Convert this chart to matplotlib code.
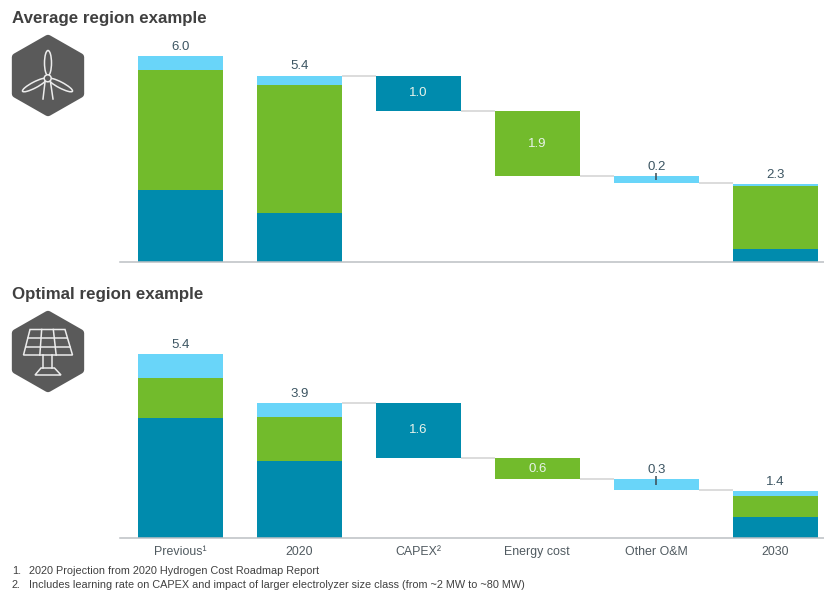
import matplotlib
matplotlib.use("Agg")
from matplotlib import pyplot as plt
from matplotlib.patches import Ellipse, Polygon, Circle
import numpy as np

plt.rcParams["font.family"] = ["Liberation Sans", "DejaVu Sans"]

categories = ["Previous¹", "2020", "CAPEX²", "Energy cost", "Other O&M", "2030"]

# stacked bars: Previous, 2020, 2030
avg_capex = [2.09, 1.42, 0.37]
avg_energy = [3.51, 3.74, 1.83]
avg_other = [0.40, 0.27, 0.07]
avg_steps = [1.03, 1.91, 0.20]
avg_totals = ["6.0", "5.4", "2.3"]
avg_step_labels = ["1.0", "1.9", "0.2"]

opt_capex = [3.52, 2.24, 0.60]
opt_energy = [1.18, 1.30, 0.62]
opt_other = [0.70, 0.42, 0.14]
opt_steps = [1.62, 0.63, 0.32]
opt_totals = ["5.4", "3.9", "1.4"]
opt_step_labels = ["1.6", "0.6", "0.3"]

TEAL = "#008bad"
GREEN = "#72bb2c"
LIGHT = "#69d5f9"
GREY = "#dcdcdc"
TXT = "#3c5562"
W, H = 824, 595


def panel(rect, ymax, capex, energy, other, steps, totals, step_labels):
    ax = fig.add_axes(rect)
    ax.patch.set_alpha(0)
    capex, energy, other = map(np.array, (capex, energy, other))
    x_stack = [0, 1, 5]
    ax.bar(x_stack, capex, 0.71, color=TEAL)
    ax.bar(x_stack, energy, 0.71, bottom=capex, color=GREEN)
    ax.bar(x_stack, other, 0.71, bottom=capex + energy, color=LIGHT)
    tot = capex + energy + other
    for x, t, s in zip(x_stack, tot, totals):
        ax.annotate(s, (x, t), xytext=(0, 6.6), textcoords="offset points",
                    ha="center", va="center", fontsize=9.5, color=TXT)

    # waterfall
    tops = tot[1] - np.concatenate(([0], np.cumsum(steps)))
    for i, (col, s, lab) in enumerate(zip([TEAL, GREEN, LIGHT], steps, step_labels)):
        x = i + 2
        ax.bar(x, s, 0.71, bottom=tops[i] - s, color=col)
        if i < 2:
            ax.text(x, tops[i] - s / 2, lab, ha="center", va="center",
                    fontsize=9.5, color="#e8f3ea")
        else:
            ax.annotate(lab, (x, tops[i]), xytext=(0, 6.6), textcoords="offset points",
                        ha="center", va="center", fontsize=9.5, color=TXT)
            ax.vlines(x, tops[i] - s / 2, tops[i] + 0.1, color="#3c4a52", lw=1.1, zorder=4)
    for i in range(4):
        ax.hlines(tops[i], i + 1 + 0.355, i + 2 - 0.355, color=GREY, lw=1.4)

    ax.set_xlim((120 - 180.3) / 119, (824 - 180.3) / 119)
    ax.set_ylim(0, ymax)
    for sp in ["top", "left", "right"]:
        ax.spines[sp].set_visible(False)
    ax.spines["bottom"].set_color("#bcc0c4")
    ax.spines["bottom"].set_linewidth(1.1)
    ax.set_yticks([])
    ax.set_xticks(range(6))
    ax.tick_params(axis="x", length=0, pad=6)
    return ax


def hexagon(ov, cx, cy):
    hw, hh = 32, 36.5
    pts = [(cx, cy - hh), (cx + hw, cy - hh / 2), (cx + hw, cy + hh / 2),
           (cx, cy + hh), (cx - hw, cy + hh / 2), (cx - hw, cy - hh / 2)]
    ov.add_patch(Polygon(pts, closed=True, fc="#5a5a5a", ec="#5a5a5a", lw=6, joinstyle="round"))


def turbine(ov):
    style = dict(fc="none", ec="#ececec", lw=1.1)
    ov.add_patch(Ellipse((48, 63), 7, 25, **style))
    ov.add_patch(Ellipse((34.5, 85), 27, 6, angle=-27.6, **style))
    ov.add_patch(Ellipse((60.5, 85), 27, 6, angle=27.6, **style))
    ov.add_patch(Circle((47.7, 78.3), 3.5, fc="#5a5a5a", ec="#ececec", lw=1.1))
    ov.plot([45, 43], [82, 99], color="#ececec", lw=1.1)
    ov.plot([50.5, 53], [82, 99], color="#ececec", lw=1.1)


def solar(ov):
    c = "#ececec"
    y0, y1 = 329.5, 355
    xl0, xr0, xl1, xr1 = 30, 65, 23.5, 72.5
    ov.add_patch(Polygon([(xl0, y0), (xr0, y0), (xr1, y1), (xl1, y1)], closed=True,
                         fc="none", ec=c, lw=1.1))
    for f in (1 / 3, 2 / 3):
        ov.plot([xl0 + (xl1 - xl0) * f, xr0 + (xr1 - xr0) * f], [y0 + (y1 - y0) * f] * 2, color=c, lw=1.1)
        ov.plot([xl0 + (xr0 - xl0) * f, xl1 + (xr1 - xl1) * f], [y0, y1], color=c, lw=1.1)
    ov.plot([43, 43], [355, 368], color=c, lw=1.1)
    ov.plot([52.5, 52.5], [355, 368], color=c, lw=1.1)
    ov.add_patch(Polygon([(41, 368), (54.5, 368), (61, 375), (35, 375)], closed=True,
                         fc="none", ec=c, lw=1.1))


fig = plt.figure(figsize=(W / 100, H / 100), dpi=100)

top_h = 261.5 - 30
ax1 = panel([120 / W, 1 - 261.5 / H, 704 / W, top_h / H], top_h / 34.25,
            avg_capex, avg_energy, avg_other, avg_steps, avg_totals, avg_step_labels)
ax1.set_xticklabels([])

bot_h = 537.5 - 330
ax2 = panel([120 / W, 1 - 537.5 / H, 704 / W, bot_h / H], bot_h / 34.0,
            opt_capex, opt_energy, opt_other, opt_steps, opt_totals, opt_step_labels)
ax2.set_xticklabels(categories, fontsize=8.9, color="#505a60")

# icons, in pixel coordinates of the figure
ov = fig.add_axes([0, 0, 1, 1], zorder=-1)
ov.set_xlim(0, W)
ov.set_ylim(H, 0)
ov.axis("off")
hexagon(ov, 48, 75.5)
turbine(ov)
hexagon(ov, 48, 351.5)
solar(ov)

fig.text(12 / W, 1 - 18.5 / H, "Average region example", fontsize=12.2, fontweight="bold",
         color="#404040", va="center")
fig.text(12 / W, 1 - 294 / H, "Optimal region example", fontsize=12.2, fontweight="bold",
         color="#404040", va="center")

fig.text(12 / W, 1 - 571.5 / H, "1.", fontsize=7.83, color="#404040", va="center")
fig.text(29 / W, 1 - 571.5 / H, "2020 Projection from 2020 Hydrogen Cost Roadmap Report", fontsize=7.83,
         color="#404040", va="center")
fig.text(12 / W, 1 - 585 / H, "2.", fontsize=7.83, color="#404040", va="center")
fig.text(29 / W, 1 - 585 / H,
         "Includes learning rate on CAPEX and impact of larger electrolyzer size class (from ~2 MW to ~80 MW)",
         fontsize=7.83, color="#404040", va="center")

fig.savefig("out.png", dpi=100)
